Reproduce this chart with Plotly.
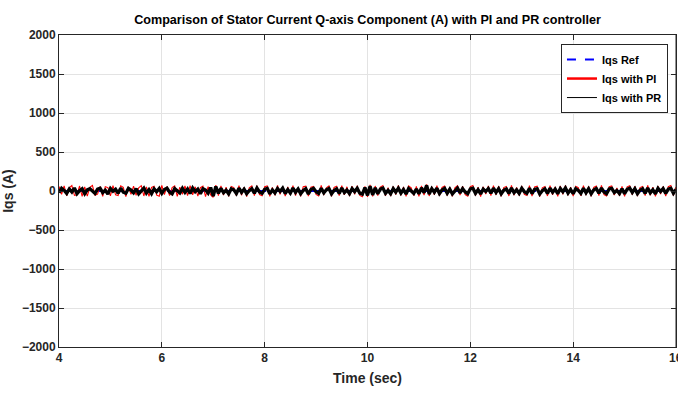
import numpy as np
import plotly.graph_objects as go

# Time axis: 4 s to 16 s, sampled every 0.05 s
t_start, t_step = 4.0, 0.05

iqs_ref_t = [4, 16]
iqs_ref = [0, 0]

iqs_pi = [
    58, -44, 66, -62, 40, 70, -56, -48, 64, -70,
    52, -66, 46, 72, -54, -40, 60, -68, 56, 44,
    -62, 70, -50, -58, 66, 48, -72, 54, -44, 62,
    -56, 40, 68, -64, 52, -70, 46, 60, -52, -66,
    72, -46, 58, -60, 44, 66, -70, 50, -42, 64,
    -58, 70, -48, 54, -66, 42, 62, -72, 56, -50,
    -80, 76, -60, 66, -52, 48, -70, 58, 44, -62,
    68, -54, 50, -72, 40, 64, -58, 70, -46, -60,
    56, 66, -68, 46, -56, 72, -42, 60, -64, 52,
    -50, 70, -60, 44, -70, 56, 62, -66, 48, 58,
    -44, -64, 72, -52, 40, 66, -70, 46, 60, -58,
    70, -48, 54, -66, 62, -42, 68, -56, -72, 60,
    -74, 78, -68, 64, -58, 50, 70, -62, 44, -66,
    60, -46, 72, -56, 52, -70, 64, 40, -60, 58,
    -68, 66, -54, 86, -64, 56, -48, 70, -62, 46,
    64, -58, 50, -70, 42, 68, -52, 62, -46, -66,
    56, 70, -60, 48, -72, 54, -40, 66, -58, 68,
    -50, 62, -68, 44, 58, -64, 72, -54, 46, -60,
    66, -42, -58, 70, -66, 52, 62, -72, 40, 56,
    -64, 68, -48, 54, -70, 64, -44, 72, -56, 50,
    -66, 60, 42, -62, 70, -54, 58, -68, 46, 64,
    -58, 72, -46, -64, 56, 66, -52, 40, -62, 60,
    -70, 54, 68, -50, 62, -66, 44, 58, -60, 72,
    -54, 48, -68, 64, -40, 60, -64, 56, 70, -58,
    52,
]

iqs_pr = [
    -22, 35, 8, -30, 26, -12, 38, -34, 4, 28,
    -36, 14, 30, -8, -32, 24, 36, -20, 10, -38,
    32, -4, 22, -30, 36, -16, -28, 34, 12, -24,
    30, -36, 6, 38, -26, 18, -34, 28, -10, 32,
    -30, 20, 36, -14, -36, 30, 2, -26, 34, -18,
    26, -32, 38, -8, 24, -36, 30, 12, -28, 44,
    -66, 58, -30, 34, -22, 10, -36, 28, 16, -32,
    36, -18, 24, -34, 4, 30, -28, 38, -12, -30,
    22, 34, -36, 14, -24, 32, -6, 36, -32, 18,
    -28, 38, -16, 26, -34, 8, 30, -38, 20, 34,
    -10, -30, 36, -24, 16, 32, -36, 6, 28, -32,
    38, -20, 12, -34, 30, -8, 34, -28, -40, 44,
    -56, 60, -50, 40, -36, 24, 38, -30, 8, -34,
    30, -14, 36, -26, 20, -38, 32, 4, -30, 26,
    -36, 40, -22, 72, -40, 30, -16, 36, -32, 12,
    34, -28, 22, -36, 6, 38, -24, 30, -12, -34,
    28, 36, -30, 16, -38, 24, -6, 32, -28, 36,
    -18, 30, -36, 10, 26, -32, 38, -22, 14, -30,
    34, -8, -28, 36, -34, 20, 30, -38, 4, 28,
    -32, 36, -16, 24, -36, 32, -10, 38, -26, 18,
    -34, 30, 8, -30, 36, -22, 28, -36, 14, 32,
    -28, 38, -12, -34, 26, 34, -20, 6, -32, 30,
    -36, 22, 36, -18, 30, -34, 10, 28, -30, 38,
    -24, 16, -36, 34, -6, 30, -32, 24, 36, -28,
    20,
]

x_ticks = [4, 6, 8, 10, 12, 14, 16]
y_ticks = [-2000, -1500, -1000, -500, 0, 500, 1000, 1500, 2000]

t_pi = t_start + t_step * np.arange(len(iqs_pi))
t_pr = t_start + t_step * np.arange(len(iqs_pr))

font_family = "Liberation Sans, Arial, sans-serif"
ink = "#262626"

fig = go.Figure()
# data traces (legend entries drawn separately so the legend line widths match)
fig.add_trace(go.Scatter(x=iqs_ref_t, y=iqs_ref, mode="lines", showlegend=False,
                         line=dict(color="#0000ff", width=2, dash="dash")))
fig.add_trace(go.Scatter(x=t_pi, y=iqs_pi, mode="lines", showlegend=False,
                         line=dict(color="#ff0000", width=1.1)))
fig.add_trace(go.Scatter(x=t_pr, y=iqs_pr, mode="lines", showlegend=False,
                         line=dict(color="#000000", width=3.3)))
# legend keys
fig.add_trace(go.Scatter(x=[None], y=[None], mode="lines", name="Iqs Ref",
                         line=dict(color="#0000ff", width=2, dash="dash"), legendrank=1))
fig.add_trace(go.Scatter(x=[None], y=[None], mode="lines", name="Iqs with PI",
                         line=dict(color="#ff0000", width=2.5), legendrank=2))
fig.add_trace(go.Scatter(x=[None], y=[None], mode="lines", name="Iqs with PR",
                         line=dict(color="#000000", width=1), legendrank=3))

axis_common = dict(
    showline=True, linecolor=ink, linewidth=1, mirror="ticks",
    ticks="inside", ticklen=5, tickcolor=ink,
    showgrid=True, gridcolor="#e3e3e3", gridwidth=1, zeroline=False,
    tickfont=dict(family=font_family, size=12, color=ink, weight="bold"),
)

fig.update_layout(
    width=678, height=394,
    margin=dict(l=59, r=2, t=35, b=47),
    paper_bgcolor="white", plot_bgcolor="white",
    title=dict(text="<b>Comparison of Stator Current Q-axis Component (A) with PI and PR controller</b>",
               x=(59 + 676) / 2 / 678, xanchor="center", y=1 - 20 / 394, yanchor="middle",
               font=dict(family=font_family, size=12.6, color="#000000")),
    xaxis=dict(range=[4, 16], tickvals=x_ticks[:-1],
               title=dict(text="<b>Time (sec)</b>", standoff=8,
                          font=dict(family=font_family, size=14, color=ink)),
               **axis_common),
    yaxis=dict(range=[-2000, 2000], tickvals=y_ticks,
               title=dict(text="<b>Iqs (A)</b>", standoff=10,
                          font=dict(family=font_family, size=14, color=ink)),
               **axis_common),
    legend=dict(x=0.987, xanchor="right", y=0.971, yanchor="top",
                bgcolor="white", bordercolor=ink, borderwidth=1,
                font=dict(family=font_family, size=11, color="#000000", weight="bold"),
                tracegroupgap=0, itemwidth=30),
    showlegend=True,
)

# last x tick label sits on the right edge (partly cut off, as in the reference)
fig.add_annotation(x=x_ticks[-1], y=0, xref="x", yref="paper", yanchor="top", yshift=-2,
                   text="<b>%d</b>" % x_ticks[-1], showarrow=False,
                   font=dict(family=font_family, size=12, color=ink))
fig.add_shape(type="line", xref="x", yref="paper", x0=x_ticks[-1], x1=x_ticks[-1],
              y0=0, y1=1, line=dict(color=ink, width=1))

fig.write_html("out.html")
